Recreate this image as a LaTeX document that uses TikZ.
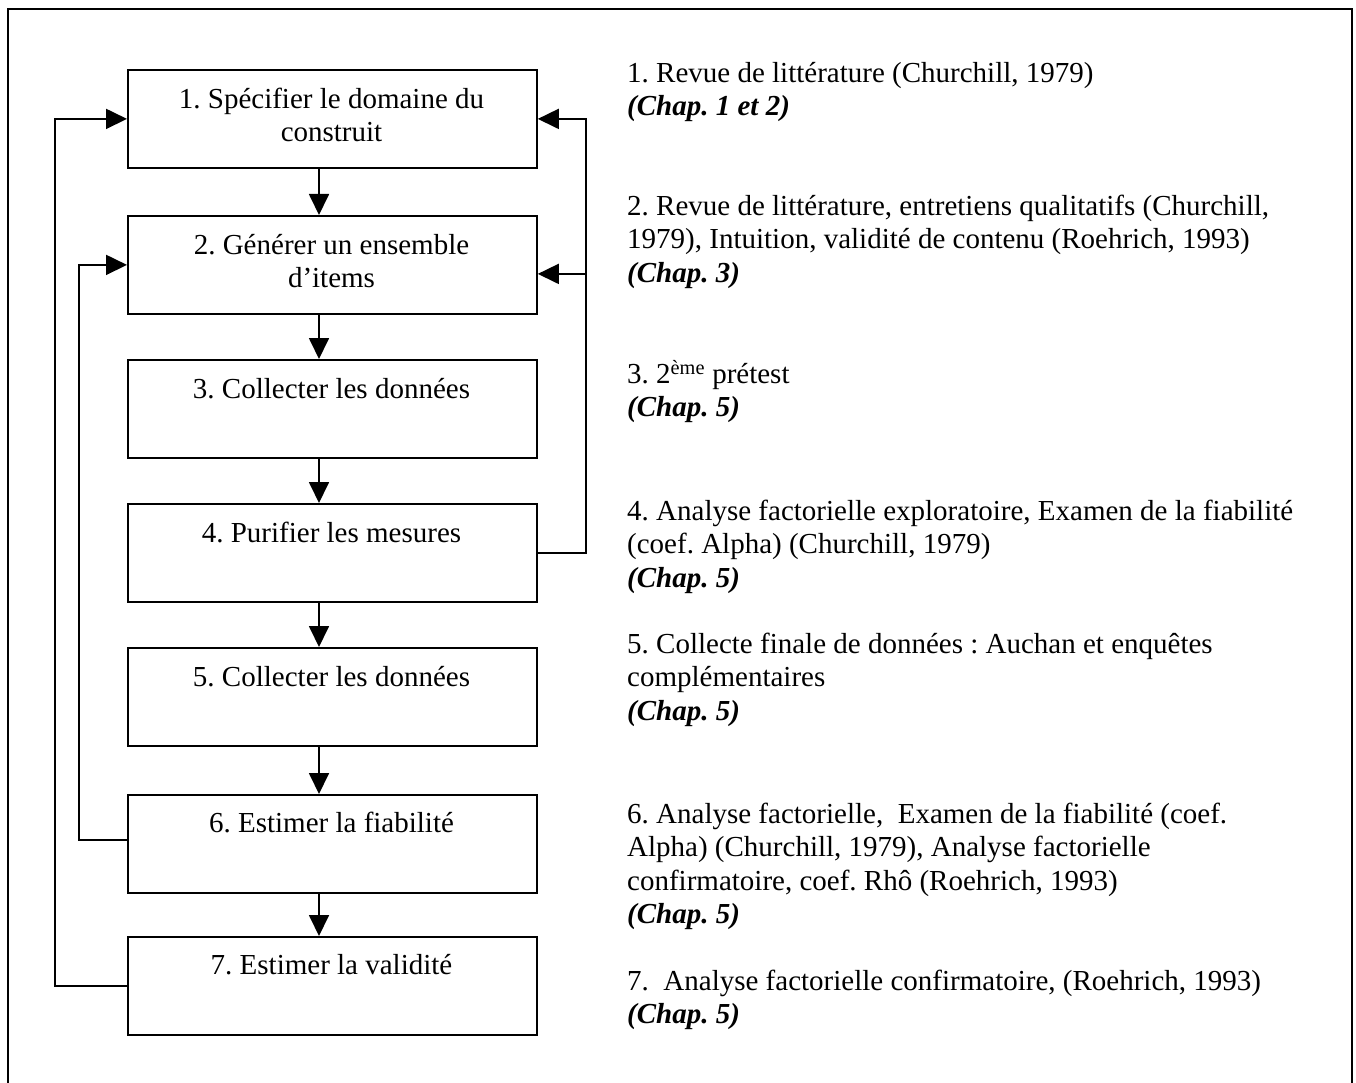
\documentclass[tikz,border=0pt]{standalone}
\usepackage{fontspec}
\setmainfont{Liberation Serif}
\usetikzlibrary{arrows.meta}
% strut fixing the height of a first line, so a north anchor sits 30pt above its baseline
\newcommand\firstln{\rule{0pt}{30pt}}
\newcommand\chap[1]{\textbf{\textit{(Chap. #1)}}}
\frenchspacing
\begin{document}
\begin{tikzpicture}[x=1pt,y=-1pt,
  every node/.style={inner sep=0pt, font=\fontsize{29}{33.5}\selectfont},
  stepbox/.style={draw, line width=1.8pt, minimum width=409pt, minimum height=98pt, anchor=north west},
  boxlabel/.style={anchor=north, align=center},
  note/.style={anchor=north west, align=left},
  flow/.style={line width=1.8pt, -{Triangle[length=21pt,width=20pt]}},
  link/.style={line width=1.8pt}]
\useasboundingbox (0,0) rectangle (1356,1083);

% outer frame (open at the bottom)
\draw[line width=1.5pt] (8,1083) -- (8,9) -- (1352,9) -- (1352,1083);

% the seven steps
\node[stepbox] (b1) at (127,69) {};
\node[stepbox] (b2) at (127,215) {};
\node[stepbox] (b3) at (127,359) {};
\node[stepbox] (b4) at (127,503) {};
\node[stepbox] (b5) at (127,647) {};
\node[stepbox] (b6) at (127,794) {};
\node[stepbox] (b7) at (127,936) {};

\node[boxlabel] (t1) at (331.5,78) {\firstln 1. Spécifier le domaine du\\construit};
\node[boxlabel] (t2) at (331.5,224) {\firstln 2. Générer un ensemble\\d’items};
\node[boxlabel] (t3) at (331.5,368) {\firstln 3. Collecter les données};
\node[boxlabel] (t4) at (331.5,512) {\firstln 4. Purifier les mesures};
\node[boxlabel] (t5) at (331.5,656) {\firstln 5. Collecter les données};
\node[boxlabel] (t6) at (331.5,802) {\firstln 6. Estimer la fiabilité};
\node[boxlabel] (t7) at (331.5,944) {\firstln 7. Estimer la validité};

% main sequence
\foreach \a/\b in {b1/b2,b2/b3,b3/b4,b4/b5,b5/b6,b6/b7}
  \draw[flow] ([xshift=192pt]\a.south west) -- ([xshift=192pt]\b.north west);

% feedback loops on the left
\draw[flow] (b7.west) -- ++(-72,0) |- (b1.west);
\draw[flow] ([yshift=4pt]b6.west) -- ++(-48,0) |- (b2.west);

% feedback loop on the right
\draw[flow] (b4.east) -- ++(48,0) |- (b1.east);
\coordinate (rj) at ([xshift=48pt,yshift=-9pt]b2.east);
\draw[flow] (rj) -- ([yshift=-9pt]b2.east);

% notes
\node[note] (n1) at (627,52) {\firstln 1. Revue de littérature (Churchill, 1979)\\\chap{1 et 2}};
\node[note] (n2) at (627,185) {\firstln 2. Revue de littérature, entretiens qualitatifs (Churchill,\\1979), Intuition, validité de contenu (Roehrich, 1993)\\\chap{3}};
\node[note] (n3) at (627,353) {\firstln 3. 2\textsuperscript{ème} prétest\\\chap{5}};
\node[note] (n4) at (627,490) {\firstln 4. Analyse factorielle exploratoire, Examen de la fiabilité\\(coef. Alpha) (Churchill, 1979)\\\chap{5}};
\node[note] (n5) at (627,623) {\firstln 5. Collecte finale de données : Auchan et enquêtes\\complémentaires\\\chap{5}};
\node[note] (n6) at (627,793) {\firstln 6. Analyse factorielle,\ \ Examen de la fiabilité (coef.\\Alpha) (Churchill, 1979), Analyse factorielle\\confirmatoire, coef. Rhô (Roehrich, 1993)\\\chap{5}};
\node[note] (n7) at (627,960) {\firstln 7.\ \ Analyse factorielle confirmatoire, (Roehrich, 1993)\\\chap{5}};
\end{tikzpicture}
\end{document}
